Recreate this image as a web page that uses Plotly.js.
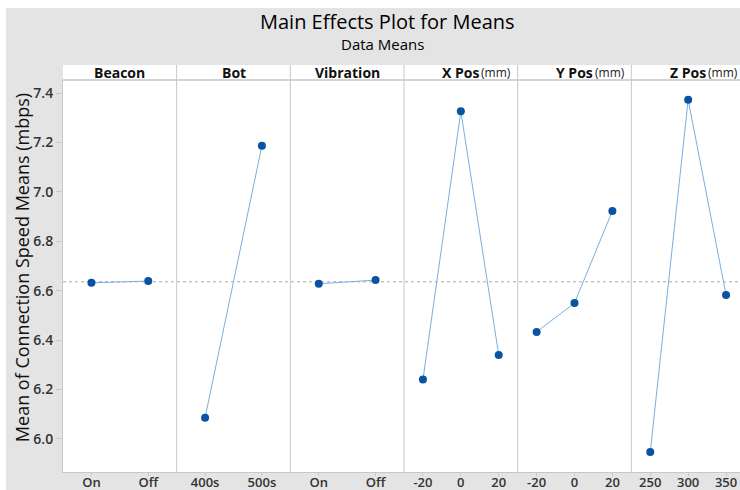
<!DOCTYPE html>
<html>
<head>
<meta charset="utf-8">
<script src="https://cdn.plot.ly/plotly-3.0.1.min.js"></script>
<style>
html,body{margin:0;padding:0;background:#ffffff;overflow:hidden;width:740px;height:490px;}
#chart{position:absolute;left:6px;top:8px;width:740px;height:482px;}
</style>
</head>
<body>
<div id="chart"></div>
<script>
// ---- data ----
const factorNames = ["Beacon", "Bot", "Vibration", "X Pos", "Y Pos", "Z Pos"];
const factorUnits = ["", "", "", "(mm)", "(mm)", "(mm)"];
const beaconLevels = ["On", "Off"];
const beaconMeans = [6.632, 6.639];
const botLevels = ["400s", "500s"];
const botMeans = [6.086, 7.187];
const vibrationLevels = ["On", "Off"];
const vibrationMeans = [6.628, 6.643];
const xPosLevels = ["-20", "0", "20"];
const xPosMeans = [6.240, 7.326, 6.340];
const yPosLevels = ["-20", "0", "20"];
const yPosMeans = [6.433, 6.550, 6.923];
const zPosLevels = ["250", "300", "350"];
const zPosMeans = [5.947, 7.373, 6.583];
const grandMean = 6.636;
const yTicks = [6.0, 6.2, 6.4, 6.6, 6.8, 7.0, 7.2, 7.4];

const levels = [beaconLevels, botLevels, vibrationLevels, xPosLevels, yPosLevels, zPosLevels];
const means = [beaconMeans, botMeans, vibrationMeans, xPosMeans, yPosMeans, zPosMeans];

const FONT = "Open Sans, Noto Sans, DejaVu Sans, sans-serif";
const nP = factorNames.length;
const headerFrac = 15 / 392;

const traces = [];
const layout = {
  width: 740, height: 482,
  margin: {l: 57, r: 1, t: 72, b: 18},
  paper_bgcolor: "#e4e4e4",
  plot_bgcolor: "#ffffff",
  showlegend: false,
  font: {family: FONT, color: "#222"},
  yaxis: {
    range: [5.866, 7.453],
    tickvals: yTicks,
    tickformat: ".1f",
    showgrid: false, zeroline: false,
    showline: true, linecolor: "#c8c8c8", linewidth: 1,
    ticks: "outside", ticklen: 6, tickcolor: "#c8c8c8",
    tickfont: {family: FONT, size: 14, color: "#333", weight: 600},
    anchor: "x", fixedrange: true
  },
  shapes: [],
  annotations: []
};

for (let i = 0; i < nP; i++) {
  const ax = i === 0 ? "x" : "x" + (i + 1);
  const axKey = i === 0 ? "xaxis" : "xaxis" + (i + 1);
  const n = levels[i].length;
  layout[axKey] = {
    domain: [i / nP, (i + 1) / nP],
    type: "category",
    categoryorder: "array",
    categoryarray: levels[i],
    range: [-0.5, n - 0.5],
    showgrid: false, zeroline: false,
    showline: true, linecolor: "#c8c8c8", linewidth: 1,
    ticks: "outside", ticklen: 3, tickcolor: "#c8c8c8",
    ticklabelstandoff: -5,
    tickfont: {family: FONT, size: 13, color: "#333", weight: 600},
    anchor: "y", fixedrange: true
  };
  traces.push({
    type: "scatter", mode: "lines+markers",
    x: levels[i], y: means[i],
    xaxis: ax, yaxis: "y",
    line: {color: "#7aaee0", width: 1},
    marker: {color: "#0a53a3", size: 8},
    cliponaxis: false, hoverinfo: "x+y"
  });
  // header labels
  const cx = (i + 0.5) / nP;
  layout.annotations.push({
    xref: "paper", yref: "paper", x: cx, y: 1 + headerFrac / 2,
    text: "<b>" + factorNames[i] + "</b>", showarrow: false,
    xanchor: "center", yanchor: "middle",
    font: {family: FONT, size: 14, color: "#111"}
  });
  if (factorUnits[i]) {
    layout.annotations.push({
      xref: "paper", yref: "paper", x: cx, y: 1 + headerFrac / 2,
      xshift: 18,
      text: factorUnits[i], showarrow: false,
      xanchor: "left", yanchor: "middle",
      font: {family: FONT, size: 12, color: "#222"}
    });
  }
}

// header strip
layout.shapes.push({type: "rect", xref: "paper", yref: "paper", x0: 0, x1: 1, y0: 1, y1: 1 + headerFrac,
  fillcolor: "#ffffff", line: {width: 0}, layer: "below"});
layout.shapes.push({type: "line", xref: "paper", yref: "paper", x0: 0, x1: 1, y0: 1, y1: 1,
  line: {color: "#d4d4d4", width: 2}});
// panel dividers
for (let i = 1; i < nP; i++) {
  layout.shapes.push({type: "line", xref: "paper", yref: "paper", x0: i / nP, x1: i / nP, y0: 0, y1: 1 + headerFrac,
    line: {color: "#c8c8c8", width: 1}});
}
// grand mean reference line
layout.shapes.push({type: "line", xref: "paper", yref: "y", x0: 0, x1: 1, y0: grandMean, y1: grandMean,
  line: {color: "#a8a8a8", width: 1, dash: "dot"}, layer: "below"});

// titles
layout.annotations.push({xref: "paper", yref: "paper", x: 0.476, y: 1.1505,
  text: "Main Effects Plot for Means", showarrow: false, xanchor: "center", yanchor: "middle",
  font: {family: FONT, size: 20, color: "#000", weight: 500}});
layout.annotations.push({xref: "paper", yref: "paper", x: 0.468, y: 1.093,
  text: "Data Means", showarrow: false, xanchor: "center", yanchor: "middle",
  font: {family: FONT, size: 15, color: "#000", weight: 500}});
layout.annotations.push({xref: "paper", yref: "paper", x: -0.0601, y: 0.52,
  text: "Mean of Connection Speed Means (mbps)", showarrow: false, textangle: -90,
  xanchor: "center", yanchor: "middle",
  font: {family: FONT, size: 18, color: "#111", weight: 500}});

Plotly.newPlot("chart", traces, layout, {displayModeBar: false, staticPlot: true});
</script>
</body>
</html>
